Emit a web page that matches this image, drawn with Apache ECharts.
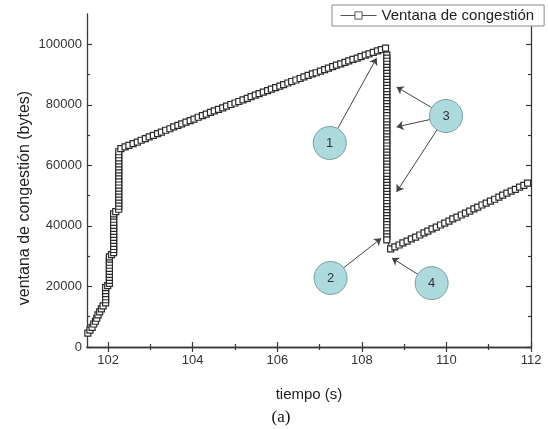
<!DOCTYPE html>
<html>
<head>
<meta charset="utf-8">
<script src="https://cdn.jsdelivr.net/npm/echarts@6/dist/echarts.min.js"></script>
<style>html,body{margin:0;padding:0;background:#fff;}#c{width:548px;height:429px;}</style>
</head>
<body>
<div id="c"></div>
<script>
// ---- data ----
const seriesName = 'Ventana de congestión';
const xTicks = [102, 104, 106, 108, 110, 112];
const xMinorTicks = [103, 105, 107, 109, 111];
const yTicks = [0, 20000, 40000, 60000, 80000, 100000];
const yMinorTicks = [10000, 30000, 50000, 70000, 90000];

// slow start (time s, window bytes)
const slowT = [101.52,101.57,101.62,101.66,101.70,101.73,101.76,101.80,101.84,101.88,
  101.94,101.94,101.94,101.94,101.94,101.94,
  101.99,
  102.03,102.03,102.03,102.03,102.03,102.03,102.03,102.03,102.03,102.03,
  102.08,
  102.13,102.13,102.13,102.13,102.13,102.13,102.13,102.13,102.13,102.13,102.13,102.13,102.13,102.13,
  102.18,
  102.25,102.25,102.25,102.25,102.25,102.25,102.25,102.25,102.25,102.25,102.25,102.25,102.25,102.25,102.25,102.25,102.25,102.25,102.25,102.25];
const slowV = [4600,5600,6500,7600,8500,9500,10600,11600,12600,13600,
  14600,15600,16600,17600,18600,19600,
  20300,
  21000,22000,23000,24000,25000,26000,27000,28000,29000,29800,
  30500,
  31200,32200,33200,34200,35200,36200,37200,38200,39200,40200,41200,42200,43200,44000,
  44700,
  45500,46500,47500,48500,49500,50500,51500,52500,53500,54500,55500,56500,57500,58500,59500,60500,61500,62500,63500,64500];

// congestion avoidance, first ramp
const ramp1T = [102.30,102.40,102.49,102.59,102.69,102.78,102.88,102.97,103.07,103.17,
  103.26,103.36,103.46,103.55,103.65,103.74,103.84,103.94,104.03,104.13,
  104.23,104.32,104.42,104.51,104.61,104.71,104.80,104.90,105.00,105.09,
  105.19,105.29,105.38,105.48,105.57,105.67,105.77,105.86,105.96,106.06,
  106.15,106.25,106.34,106.44,106.54,106.63,106.73,106.83,106.92,107.02,
  107.12,107.21,107.31,107.40,107.50,107.60,107.69,107.79,107.89,107.98,
  108.08,108.17,108.27,108.37,108.46,108.56];
const ramp1V = [65500,66100,66600,67200,67700,68300,68800,69400,69900,70500,
  71000,71600,72100,72700,73200,73700,74300,74800,75300,75900,
  76400,76900,77500,78000,78500,79000,79600,80100,80600,81100,
  81600,82100,82700,83200,83700,84200,84700,85200,85700,86200,
  86700,87200,87700,88200,88700,89200,89700,90200,90600,91100,
  91600,92100,92600,93100,93500,94000,94500,95000,95400,95900,
  96400,96800,97300,97800,98200,98700];

// window collapse at loss
const dropTime = 108.59;
const dropV = [96400,95400,94400,93400,92400,91400,90400,89400,88400,87400,
  86400,85400,84400,83400,82400,81400,80400,79400,78400,77400,
  76400,75400,74400,73400,72400,71400,70400,69400,68400,67400,
  66400,65400,64400,63400,62400,61400,60400,59400,58400,57400,
  56400,55400,54400,53400,52400,51400,50400,49400,48400,47400,
  46400,45400,44400,43400,42400,41400,40400,39400,38400,37400,
  36400,35400];

// second ramp
const ramp2T = [108.68,108.78,108.88,108.97,109.07,109.17,109.27,109.37,109.47,109.56,
  109.66,109.76,109.86,109.96,110.06,110.15,110.25,110.35,110.45,110.55,
  110.65,110.74,110.84,110.94,111.04,111.14,111.24,111.33,111.43,111.53,
  111.63,111.73,111.83,111.92];
const ramp2V = [32400,33100,33700,34400,35000,35700,36300,37000,37700,38300,
  39000,39600,40300,40900,41600,42300,42900,43600,44200,44900,
  45600,46200,46900,47500,48200,48800,49500,50200,50800,51500,
  52100,52800,53400,54100];

// annotation bubbles (x, y, label) and arrow targets
const bubbleX = [107.24, 107.26, 109.99, 109.65];
const bubbleY = [67400, 22800, 76300, 21100];
const bubbleText = ['1', '2', '3', '4'];
const arrowFrom = [0, 1, 2, 2, 2, 3];
const arrowToX = [108.35, 108.46, 108.82, 108.82, 108.82, 108.71];
const arrowToY = [95500, 35900, 85900, 72700, 51200, 29400];

// ---- build ----
const pts = [];
slowT.forEach((t, i) => pts.push([t, slowV[i]]));
ramp1T.forEach((t, i) => pts.push([t, ramp1V[i]]));
dropV.forEach(v => pts.push([dropTime, v]));
ramp2T.forEach((t, i) => pts.push([t, ramp2V[i]]));

const bubbles = bubbleX.map((x, i) => [x, bubbleY[i], bubbleText[i]]);
const arrows = arrowFrom.map((f, i) => ({coords: [[bubbleX[f], bubbleY[f]], [arrowToX[i], arrowToY[i]]]}));

const FONT = 'Liberation Sans, Arial, sans-serif';
const AX = '#3a3a3a';
const xRange = {min: 101.5, max: 112};
const yRange = {min: 0, max: 110000};

function xAx(pos, ticks, len, labels, lineShow) {
  return Object.assign({
    type: 'value', position: pos, gridIndex: 0,
    axisLine: {show: lineShow, lineStyle: {color: AX, width: 1.3}},
    axisTick: {show: true, inside: true, length: len, customValues: ticks, lineStyle: {color: AX, width: 1.2}},
    axisLabel: labels ? {show: true, customValues: ticks, margin: 7, fontSize: 13, color: '#333', fontFamily: FONT,
      formatter: v => String(v)} : {show: false},
    splitLine: {show: false}
  }, xRange);
}
function yAx(pos, ticks, len, labels, lineShow) {
  return Object.assign({
    type: 'value', position: pos, gridIndex: 0,
    axisLine: {show: lineShow, lineStyle: {color: AX, width: 1.3}},
    axisTick: {show: true, inside: true, length: len, customValues: ticks, lineStyle: {color: AX, width: 1.2}},
    axisLabel: labels ? {show: true, customValues: ticks, margin: 5, fontSize: 13, color: '#333', fontFamily: FONT,
      formatter: v => String(v)} : {show: false},
    splitLine: {show: false}
  }, yRange);
}

const xAxes = [
  xAx('bottom', xTicks, 5, true, true),
  xAx('bottom', xMinorTicks, 3, false, false),
  xAx('top', xTicks, 5, false, true),
  xAx('top', xMinorTicks, 3, false, false)
];
xAxes[0].name = 'tiempo (s)';
xAxes[0].nameLocation = 'middle';
xAxes[0].nameGap = 40;
xAxes[0].nameTextStyle = {fontSize: 15, color: '#222', fontFamily: FONT};

const yAxes = [
  yAx('left', yTicks, 5, true, true),
  yAx('left', yMinorTicks, 3, false, false),
  yAx('right', yTicks, 5, false, true),
  yAx('right', yMinorTicks, 3, false, false)
];

const chart = echarts.init(document.getElementById('c'), null, {renderer: 'canvas'});
chart.setOption({
  animation: false,
  backgroundColor: '#fff',
  grid: {left: 87, right: 17, top: 14, bottom: 82, containLabel: false},
  xAxis: xAxes,
  yAxis: yAxes,
  legend: {
    data: [seriesName], left: 332, top: 5,
    padding: [3, 10, 3, 8], backgroundColor: '#fff', borderColor: '#8a8a8a', borderWidth: 1, borderRadius: 0,
    itemWidth: 36, itemHeight: 9,
    lineStyle: {width: 1, color: '#555'},
    itemStyle: {color: '#fff', borderColor: '#555', borderWidth: 1},
    textStyle: {fontSize: 15, color: '#222', fontFamily: FONT},
    z: 10
  },
  graphic: [
    {type: 'text', x: 25, y: 198, rotation: Math.PI / 2,
     style: {text: 'ventana de congestión (bytes)', font: '16px ' + FONT, fill: '#222', align: 'center', verticalAlign: 'middle'}},
    {type: 'text', x: 281, y: 418,
     style: {text: '(a)', font: '17px Liberation Serif, Times New Roman, serif', fill: '#111', align: 'center', verticalAlign: 'middle'}}
  ],
  series: [
    {
      name: seriesName, type: 'line', xAxisIndex: 0, yAxisIndex: 0,
      data: pts, showAllSymbol: true, symbol: 'rect', symbolSize: 6,
      lineStyle: {color: '#222', width: 1},
      itemStyle: {color: '#fff', borderColor: '#2a2a2a', borderWidth: 1.2},
      emphasis: {disabled: true}, z: 2
    },
    {
      name: 'flechas', type: 'lines', coordinateSystem: 'cartesian2d', xAxisIndex: 0, yAxisIndex: 0,
      data: arrows, symbol: ['none', 'arrow'], symbolSize: 7,
      lineStyle: {color: '#444', width: 1, opacity: 1, curveness: 0},
      silent: true, z: 4
    },
    {
      name: 'notas', type: 'scatter', xAxisIndex: 0, yAxisIndex: 0,
      data: bubbles, symbol: 'circle', symbolSize: 33,
      itemStyle: {color: '#acdadd', borderColor: '#7a9fa3', borderWidth: 1, opacity: 1},
      label: {show: true, position: 'inside', formatter: p => p.value[2], fontSize: 13, color: '#333', fontFamily: FONT},
      emphasis: {disabled: true}, silent: true, z: 6
    }
  ]
});
</script>
</body>
</html>
